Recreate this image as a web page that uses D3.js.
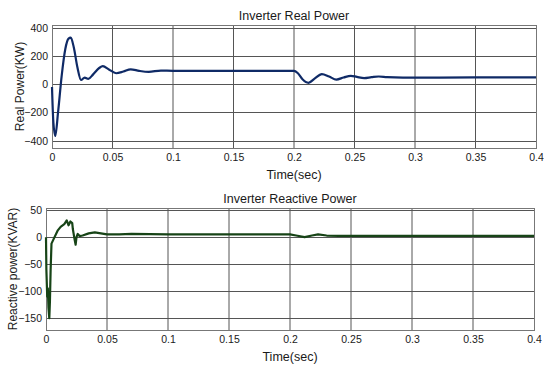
<!DOCTYPE html>
<html>
<head>
<meta charset="utf-8">
<script src="https://cdn.jsdelivr.net/npm/d3@7"></script>
<style>
  body { margin: 0; background: #fff; }
  svg text { font-family: "Liberation Sans", Arial, sans-serif; fill: #1a1a1a; }
</style>
</head>
<body>
<div id="chart"></div>
<script>
// time axis ticks shared by both panels
var timeTicks = [0, 0.05, 0.1, 0.15, 0.2, 0.25, 0.3, 0.35, 0.4];

// inverter real power (sec, KW)
var realTime  = [0, 0.001, 0.0027, 0.005, 0.008, 0.011, 0.0135, 0.0155, 0.018, 0.021, 0.024, 0.027, 0.030,
                 0.034, 0.039, 0.042, 0.047, 0.053, 0.059, 0.065, 0.072, 0.080, 0.090, 0.100, 0.150, 0.200,
                 0.203, 0.207, 0.212, 0.217, 0.223, 0.229, 0.235, 0.241, 0.247, 0.252, 0.258, 0.264, 0.270,
                 0.277, 0.290, 0.350, 0.400];
var realPower = [-20, -250, -367, -200, 60, 250, 322, 330, 262, 120, 30, 47, 38,
                 70, 115, 128, 105, 78, 90, 106, 95, 88, 97, 95, 95, 95,
                 80, 35, 10, 40, 72, 55, 33, 48, 60, 52, 44, 50, 55,
                 50, 47, 48, 48];
var realTicks = [400, 200, 0, -200, -400];

// inverter reactive power (sec, KVAR)
var reactiveTime  = [0, 0.0003, 0.001, 0.0015, 0.002, 0.0027, 0.0032, 0.0038, 0.0045, 0.007, 0.0095, 0.012,
                     0.015, 0.017, 0.0185, 0.020, 0.0215, 0.022, 0.0235, 0.0243, 0.025, 0.026, 0.0275, 0.030,
                     0.035, 0.040, 0.045, 0.050, 0.060, 0.070, 0.100, 0.150, 0.200, 0.205, 0.212, 0.218,
                     0.223, 0.230, 0.240, 0.300, 0.400];
var reactivePower = [0, -60, -110, -95, -130, -150, -120, -60, -12, 0, 12, 19,
                     24, 31, 22, 29, 26, 15, -5, -14, 0, 6, 2, 3,
                     7, 9, 7, 5, 5, 6, 5, 5, 5, 3, 0, 3,
                     5, 3, 2.5, 2.5, 2.5];
var reactiveTicks = [50, 0, -50, -100, -150];

var W = 544, H = 365;

var svg = d3.select('#chart')
            .append('svg')
            .attr('width', W)
            .attr('height', H);

// panel layout
var panels = [
    { title : 'Inverter Real Power', ylabel : 'Real Power(KW)',
      left : 52, right : 536, top : 25, bottom : 148, ydom : [-452, 420],
      t : realTime, v : realPower, ticks : realTicks, color : '#0f2a66',
      curve : d3.curveMonotoneX, ylabelX : 20, labelEnd : 48 },
    { title : 'Inverter Reactive Power', ylabel : 'Reactive power(KVAR)',
      left : 46, right : 534, top : 208, bottom : 330, ydom : [-172, 54],
      t : reactiveTime, v : reactivePower, ticks : reactiveTicks, color : '#174417',
      curve : d3.curveLinear, ylabelX : 13, labelEnd : 42 }
];

panels.forEach(function(p) {
    var x = d3.scaleLinear().domain([0, 0.4]).range([p.left, p.right]);
    var y = d3.scaleLinear().domain(p.ydom).range([p.bottom, p.top]);
    var g = svg.append('g');

    // grid lines
    g.selectAll('line.vx')
        .data(timeTicks.slice(1, -1))
        .enter().append('line')
        .attr('x1', function(d) { return x(d); })
        .attr('x2', function(d) { return x(d); })
        .attr('y1', p.top).attr('y2', p.bottom)
        .attr('stroke', '#555').attr('stroke-width', 1);
    g.selectAll('line.hy')
        .data(p.ticks)
        .enter().append('line')
        .attr('x1', p.left).attr('x2', p.right)
        .attr('y1', function(d) { return Math.round(y(d)) + 0.5; })
        .attr('y2', function(d) { return Math.round(y(d)) + 0.5; })
        .attr('stroke', '#555').attr('stroke-width', 1);

    // frame
    g.append('rect')
        .attr('x', p.left + 0.5).attr('y', p.top + 0.5)
        .attr('width', p.right - p.left).attr('height', p.bottom - p.top)
        .attr('fill', 'none').attr('stroke', '#777').attr('stroke-width', 1);

    // trace
    var line = d3.line()
        .x(function(d, i) { return x(p.t[i]); })
        .y(function(d) { return y(d); })
        .curve(p.curve);
    g.append('path')
        .attr('d', line(p.v))
        .attr('fill', 'none')
        .attr('stroke', p.color)
        .attr('stroke-width', 2.2)
        .attr('stroke-linejoin', 'round');

    // axes (tick labels only, the frame is drawn above)
    var xAxis = d3.axisBottom(x).tickValues(timeTicks).tickSize(0).tickPadding(6)
                  .tickFormat(function(d) { return d === 0 ? '0' : d3.format('~g')(d); });
    g.append('g')
        .attr('transform', 'translate(0,' + p.bottom + ')')
        .call(xAxis)
        .call(function(a) { a.select('.domain').remove(); })
        .selectAll('text')
        .attr('font-size', 10.5).attr('fill', '#1a1a1a');

    var yAxis = d3.axisLeft(y).tickValues(p.ticks).tickSize(0).tickPadding(p.left - p.labelEnd);
    g.append('g')
        .attr('transform', 'translate(' + p.left + ',0)')
        .call(yAxis)
        .call(function(a) { a.select('.domain').remove(); })
        .selectAll('text')
        .attr('font-size', 10.5).attr('fill', '#1a1a1a');

    // title and labels
    g.append('text')
        .attr('x', (p.left + p.right) / 2).attr('y', p.top - 5)
        .attr('text-anchor', 'middle').attr('font-size', 12.5)
        .text(p.title);
    g.append('text')
        .attr('x', (p.left + p.right) / 2).attr('y', p.bottom + 31)
        .attr('text-anchor', 'middle').attr('font-size', 12.5)
        .text('Time(sec)');
    g.append('text')
        .attr('transform', 'translate(' + p.ylabelX + ',' + ((p.top + p.bottom) / 2) + ') rotate(-90)')
        .attr('text-anchor', 'middle').attr('dy', '0.35em').attr('font-size', 12)
        .text(p.ylabel);
});
</script>
</body>
</html>
